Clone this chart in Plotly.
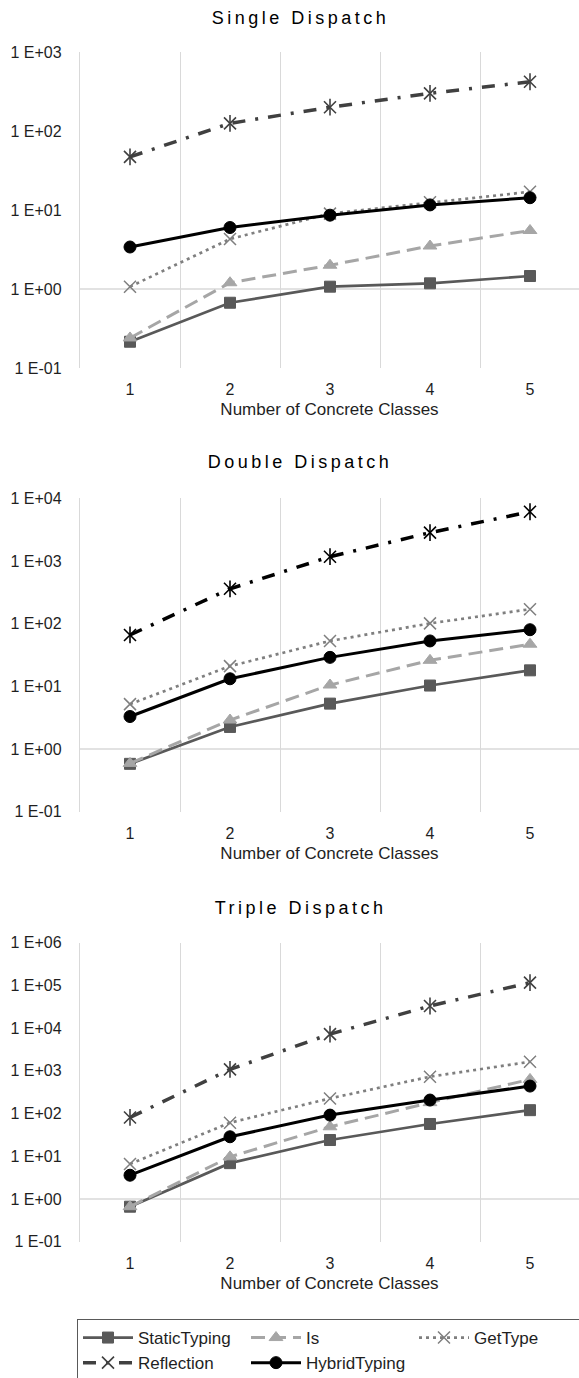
import plotly.graph_objects as go

# ---------------- data ----------------
CATEGORIES = [1, 2, 3, 4, 5]
SERIES = ["StaticTyping", "Is", "GetType", "Reflection", "HybridTyping"]
PANEL_TITLES = ["Single Dispatch", "Double Dispatch", "Triple Dispatch"]
X_TITLE = "Number of Concrete Classes"

single_static = [0.215, 0.67, 1.07, 1.18, 1.46]
single_is = [0.24, 1.2, 2.0, 3.5, 5.5]
single_gettype = [1.07, 4.3, 9.0, 12.5, 17.0]
single_reflection = [47, 125, 200, 300, 420]
single_hybrid = [3.4, 6.0, 8.6, 11.6, 14.3]

double_static = [0.58, 2.25, 5.3, 10.3, 18.0]
double_is = [0.59, 2.9, 10.5, 26.0, 47.0]
double_gettype = [5.2, 21.0, 53.0, 101.0, 170.0]
double_reflection = [66, 360, 1170, 2830, 6100]
double_hybrid = [3.3, 13.2, 29.0, 53.0, 80.0]

triple_static = [0.66, 6.9, 24.0, 57.0, 120.0]
triple_is = [0.66, 9.7, 49.0, 180.0, 630.0]
triple_gettype = [6.6, 61.0, 226.0, 730.0, 1630.0]
triple_reflection = [81, 1080, 7260, 33000, 116000]
triple_hybrid = [3.6, 28.6, 92.0, 207.0, 440.0]

# log10 exponent range of each panel's y axis
Y_EXP_RANGES = [(-1, 3), (-1, 4), (-1, 6)]

PANEL_DATA = [
    [single_static, single_is, single_gettype, single_reflection, single_hybrid],
    [double_static, double_is, double_gettype, double_reflection, double_hybrid],
    [triple_static, triple_is, triple_gettype, triple_reflection, triple_hybrid],
]

# ---------------- layout constants (pixels) ----------------
W, H = 579, 1378
PLOT_LEFT = 80
PANEL_PIX = [(52, 368), (498.3, 811.7), (942.7, 1241.7)]   # (top, bottom)
TITLE_Y = [18, 462, 908]
TITLE_X = 300
LEGEND_LEFT, LEGEND_TOP = 77, 1319

FONT = "Liberation Sans, Arial, sans-serif"
GRID = "#d9d9d9"
TEXT = "#1f1f1f"


def py(p):
    return 1 - p / H


STYLES = {
    "StaticTyping": dict(line=dict(color="#595959", width=2.7),
                         marker=dict(symbol="square", size=11, color="#595959",
                                     line=dict(color="#595959", width=1))),
    "Is": dict(line=dict(color="#a6a6a6", width=3, dash="14px,7px"),
               marker=dict(symbol="triangle-up", size=12, color="#a6a6a6",
                           line=dict(color="#a6a6a6", width=1))),
    "GetType": dict(line=dict(color="#7f7f7f", width=2.7, dash="3px,4px"),
                    marker=dict(symbol="x-thin-open", size=12, color="#7f7f7f",
                                line=dict(color="#7f7f7f", width=1.5))),
    "Reflection": dict(line=dict(color="#404040", width=3.5, dash="13px,10px,3px,10px"),
                       marker=dict(symbol="x-thin-open", size=12, color="#404040",
                                   line=dict(color="#404040", width=1.6))),
    "HybridTyping": dict(line=dict(color="#000000", width=3),
                         marker=dict(symbol="circle", size=12, color="#000000",
                                     line=dict(color="#000000", width=1))),
}
REFLECTION_COLORS = ["#404040", "#000000", "#404040"]

fig = go.Figure()

for p, values in enumerate(PANEL_DATA):
    xa = "x" if p == 0 else f"x{p + 1}"
    ya = "y" if p == 0 else f"y{p + 1}"
    for name, vals in zip(SERIES, values):
        st = STYLES[name]
        line = dict(st["line"])
        marker = dict(st["marker"])
        if name == "Reflection":
            c = REFLECTION_COLORS[p]
            line["color"] = c
            marker["color"] = c
            marker["line"] = dict(color=c, width=1.6)
        fig.add_trace(go.Scatter(
            x=CATEGORIES, y=vals, name=name, mode="lines+markers",
            line=line, marker=marker, xaxis=xa, yaxis=ya,
            legendgroup=name, showlegend=(p == 0), hoverinfo="skip"))
        if name == "Reflection":
            # vertical stroke completing the asterisk marker
            fig.add_trace(go.Scatter(
                x=CATEGORIES, y=vals, name=name, mode="markers",
                marker=dict(symbol="line-ns-open", size=12, color=marker["color"],
                            line=dict(color=marker["color"], width=1.6)),
                xaxis=xa, yaxis=ya, legendgroup=name, showlegend=False,
                hoverinfo="skip"))

layout = dict(
    template="none",
    width=W, height=H, autosize=False,
    margin=dict(l=0, r=0, t=0, b=0, autoexpand=False),
    paper_bgcolor="white", plot_bgcolor="white",
    font=dict(family=FONT, color=TEXT, size=16),
    showlegend=True,
    legend=dict(orientation="h", x=LEGEND_LEFT / W, xanchor="left",
                y=py(LEGEND_TOP), yanchor="top",
                entrywidth=103, entrywidthmode="pixels", itemwidth=50,
                bordercolor="#595959", borderwidth=1, bgcolor="white",
                font=dict(family=FONT, size=17, color=TEXT),
                traceorder="normal"),
    shapes=[], annotations=[],
)

for p, (top, bottom) in enumerate(PANEL_PIX):
    sfx = "" if p == 0 else str(p + 1)
    lo, hi = Y_EXP_RANGES[p]
    exps = list(range(lo, hi + 1))
    d0, d1 = py(bottom), py(top)
    layout["xaxis" + sfx] = dict(
        domain=[PLOT_LEFT / W, 1], range=[0.5, 5.49], anchor="y" + sfx,
        tickmode="array", tickvals=CATEGORIES, ticktext=[str(c) for c in CATEGORIES],
        showgrid=False, zeroline=False, showline=False, ticks="", automargin=False,
        ticklabelstandoff=10, tickfont=dict(size=16),
        minor=dict(tick0=0.5, dtick=1, showgrid=True, gridcolor=GRID, gridwidth=1.3, ticks=""),
        title=dict(text=X_TITLE, font=dict(size=17), standoff=6),
    )
    layout["yaxis" + sfx] = dict(
        domain=[d0, d1], type="log", range=[lo, hi], anchor="x" + sfx,
        tickmode="array", tickvals=[10.0 ** e for e in exps],
        ticktext=[f"1 E{e:+03d}" for e in exps],
        showgrid=False, zeroline=False, ticks="", automargin=False,
        showline=True, linecolor=GRID, linewidth=1.3,
        ticklabelstandoff=14, tickfont=dict(size=16),
    )
    # horizontal axis crossing line at value 1 (exponent 0) of the log axis
    y_one = d0 + (d1 - d0) * (0 - lo) / (hi - lo)
    layout["shapes"].append(dict(
        type="line", xref=f"x{sfx} domain", x0=0, x1=1,
        yref="paper", y0=y_one, y1=y_one,
        line=dict(color=GRID, width=1.3), layer="below"))
    layout["annotations"].append(dict(
        text=PANEL_TITLES[p], xref="paper", yref="paper",
        x=TITLE_X / W, y=py(TITLE_Y[p]), xanchor="center", yanchor="middle",
        showarrow=False, font=dict(size=18, color="#000000", family=FONT)))

fig.update_layout(**layout)

POST = (
    "document.body.style.margin='0';"
    "document.querySelectorAll('.annotation-text').forEach(function(t){"
    "t.style.letterSpacing='3.5px';});"
)
fig.write_html("out.html", post_script=POST, config={"displayModeBar": False})
